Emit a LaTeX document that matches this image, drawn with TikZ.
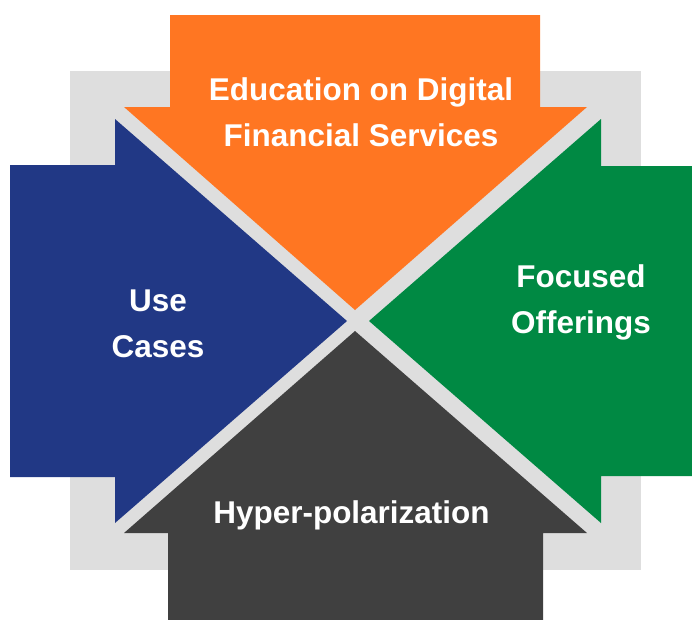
\documentclass[tikz,border=0pt]{standalone}
\usepackage{xcolor}
\usepackage{fontspec}
\setmainfont{Liberation Sans}
\usepackage{tikz}

\begin{document}
\begin{tikzpicture}[x=0.75pt, y=-0.75pt,
        etiqueta/.style={text=white, font=\bfseries\fontsize{23.6}{34.5}\selectfont, align=center, inner sep=0pt}]
        \definecolor{naranja}{HTML}{FF7622}
        \definecolor{azul}{HTML}{213885}
        \definecolor{verde}{HTML}{008943}
        \definecolor{grisO}{HTML}{404040}
        \definecolor{grisC}{HTML}{DEDEDE}
        \useasboundingbox (0,0) rectangle (692,619);
        \clip (0,0) rectangle (692,619);
        % fondo
        \fill[grisC] (70,71) rectangle (641,570);
        % flechas
        \fill[naranja] (170,15) -- (540,15) -- (540,107) -- (587,107) -- (355,310) -- (124,107) -- (170,107) -- cycle;
        \fill[azul] (10,165) -- (115,165) -- (115,119) -- (347,321) -- (115,523) -- (115,477) -- (10,477) -- cycle;
        \fill[verde] (700,166) -- (601,166) -- (601,119) -- (369,321) -- (601,523) -- (601,476) -- (700,476) -- cycle;
        \fill[grisO] (168,630) -- (168,533) -- (124,533) -- (355,331) -- (587,533) -- (543,533) -- (543,630) -- cycle;
        % textos
        \node[etiqueta] (educacion) at (361,112.5) {Education on Digital\\Financial Services};
        \node[etiqueta] (casos) at (158,323.5) {Use\\Cases};
        \node[etiqueta] (ofertas) at (581,302.5) {Focused\\Offerings};
        \node[etiqueta, anchor=base] (polarizacion) at (351.5,523) {Hyper-polarization};
    \end{tikzpicture}
\end{document}
